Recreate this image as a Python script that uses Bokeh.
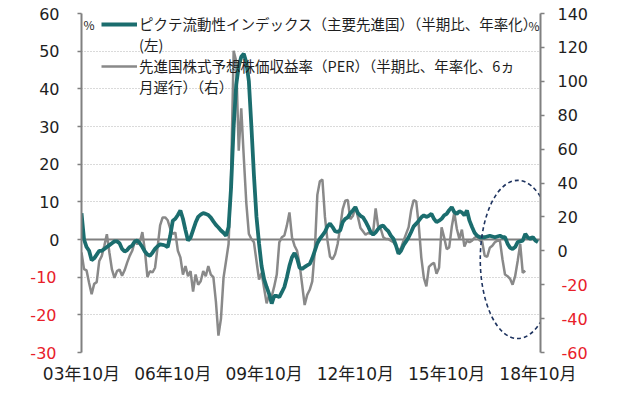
from bokeh.plotting import figure
from bokeh.models import Range1d, LinearAxis, FixedTicker, Label, Legend, LegendItem
from bokeh.embed import file_html
from bokeh.resources import INLINE

# ---- data (monthly, starting Oct 2003) ----
liquidity = [7, 0, -2, -3, -5.5, -5, -4, -3, -3, -2.5, -2, -1.5, -1, -0.5, -0.5, -1, -2.5, -3.2, -2.8, -2,
             -1.6, -0.5, -0.3, -1, -2, -3.2, -4, -4.3, -3.5, -2.5, -1.8, -1.3, -1.4, -1.6, -2, 1, 5, 5.5, 6.5, 7.7,
             5.5, 2.5, -0.3, 0.5, 2.5, 4.5, 6, 6.6, 7, 6.8, 6.5, 5.8, 4.8, 3.9, 3.2, 2.4, 1.8, 1, 3.3, 14,
             30, 41, 46, 48.5, 49.3, 47, 42, 30, 17, 6, -1, -7, -10.5, -12.6, -14.5, -17, -15, -15, -15.3, -14,
             -12.6, -10, -7, -4.7, -3.6, -5, -7.5, -7.8, -7.3, -6.9, -6.5, -5, -3, -1, 0.2, 1.1, 2, 3.5, 4.2, 3.3,
             2.2, 2, 2.4, 4.6, 5.5, 5.9, 7, 7.7, 8.6, 7, 6.3, 5.9, 4.8, 3.5, 2, 1.3, 1.9, 2.8, 3.5, 3.7,
             2.8, 2.2, 1, 0.2, -1.6, -3.8, -3, -1.5, -0.5, 0.6, 2, 3.5, 4.2, 5, 5.9, 6.4, 6, 6.3, 6.8, 5.5,
             4.6, 5, 5.5, 6.4, 6.8, 7.8, 8.6, 7.3, 6.8, 7.5, 7.2, 6.4, 7.7, 5, 3.3, 1.8, 1, 0.6, 0.6, 0.6,
             0.8, 1, 0.8, 0.6, 0.8, 1, 0.6, 0.6, -1.1, -2.2, -2.5, -2, -0.7, -0.5, -0.3, 1.5, 0.5, 0.2, 0.6, -0.3,
             -0.7]
per = [-1, -10.8, -11.6, -19, -25.6, -19.5, -18.5, -6, -3, 3, 9.8, -1, -11, -16, -12, -11, -14.7, -11.5, -7, -3,
       0, 5.5, 4, 5, 11, 0, -15.5, -12, -12.8, -10, 2, 15, 19.7, 19.7, 18, 13, 10, 10.8, 0, -3.9,
       -14, -9, -15, -12, -24, -14, -20, -18, -12, -15, -9, -14, -15.5, -30, -50, -40, -16, -6, 4, 45,
       118, 112, 59, 84, 55, 28, 10, 7, 5, -6, -17, -13, -22, -31, -26, -27, -21, -14, 5, 8,
       9, 15, 22.6, 8, 3, 0, -8, -20, -32, -26, -23, -18, 0, 33, 41, 42, 20, 6, -3.5, -5,
       -2, 4, 13.8, 24.6, 29.5, 30, 18.7, 20.5, 25.9, 20, 13.5, 11.5, 9.5, 10.5, 10, 11, 25, 14, 13, 8,
       6.9, 6.9, 6, 5, 3, 0, 1.5, 6, 10, 14, 24, 30, 29, 15, -4, -16, -21, -9.5, -8, -7,
       -13.5, -10, 13.8, 8, 1, 2, 14, 22.6, 13, 7, 12.5, 2.5, 6, 5, 6, 7.7, 8.5, 6.2, 5.5, -3,
       -3.5, 1.8, 3, 5, 6, 6, -5, -14, -15, -16.5, -20, -15, -6, 4, -13, -11.8]
months_liq = list(range(len(liquidity)))
months_per = list(range(len(per)))

x_tick_pos = [0, 36, 72, 108, 144, 180]
x_tick_labels = ["03年10月", "06年10月", "09年10月", "12年10月", "15年10月", "18年10月"]
left_ticks = [-30, -20, -10, 0, 10, 20, 30, 40, 50, 60]
right_ticks = [-60, -40, -20, 0, 20, 40, 60, 80, 100, 120, 140]
legend_lines = [
    "ピクテ流動性インデックス（主要先進国）（半期比、年率化）",
    "(左)",
    "先進国株式予想株価収益率（PER）（半期比、年率化、6ヵ",
    "月遅行）（右）",
]
# highlighted region (dashed ellipse): centre month, centre value (left axis), width in months, height
hl_x, hl_y, hl_w, hl_h = 172, -5.3, 29.5, 42

TEAL = "#1b6d6e"
GRAY = "#898989"
AXIS = "#808080"
RED = "#e8202a"
TXT = "#1e1e1e"
NUM_FONT = "DejaVu Sans"
JP_FONT = "Noto Sans CJK JP"

FW, FH = 459, 339

p = figure(frame_width=FW, frame_height=FH,
           x_range=Range1d(0, 181), y_range=Range1d(-30, 60),
           output_backend="svg", toolbar_location=None,
           min_border_left=81, min_border_right=86, min_border_top=13, min_border_bottom=42)
p.extra_y_ranges = {"right": Range1d(-60, 140)}
p.outline_line_color = None
p.background_fill_color = "white"
p.border_fill_color = "white"

# grid
p.xgrid.visible = False
p.ygrid.ticker = FixedTicker(ticks=[t for t in left_ticks if t != 0])
p.ygrid.grid_line_color = "#b4b4b4"
p.ygrid.grid_line_dash = "1 2"
p.ygrid.grid_line_width = 1

# x axis
xa = p.xaxis[0]
xa.ticker = FixedTicker(ticks=x_tick_pos)
xa.major_label_overrides = {t: l for t, l in zip(x_tick_pos, x_tick_labels)}
xa.axis_line_color = None
xa.major_tick_line_color = None
xa.minor_tick_line_color = None
xa.major_label_standoff = 5
xa.major_label_text_font = NUM_FONT + ", " + JP_FONT
xa.major_label_text_font_size = "17px"
xa.major_label_text_color = TXT


def style_axis(ax, standoff, color, visible_line):
    ax.axis_line_color = AXIS if visible_line else None
    ax.axis_line_width = 2
    ax.major_tick_line_color = AXIS if visible_line else None
    ax.major_tick_line_width = 1.5
    ax.major_tick_out = 4 if visible_line else 0
    ax.major_tick_in = 0
    ax.minor_tick_line_color = None
    ax.major_label_standoff = standoff
    ax.major_label_text_font = NUM_FONT
    ax.major_label_text_font_size = "16px"
    ax.major_label_text_color = color


# left axis: black (non-negative) labels, next to the frame
ya = p.yaxis[0]
ya.ticker = FixedTicker(ticks=left_ticks)
ya.major_label_overrides = {t: "" for t in left_ticks if t < 0}
style_axis(ya, 18, TXT, True)
# outer left axis: red negative labels, pulled back over the inner axis
ya_neg = LinearAxis(ticker=FixedTicker(ticks=left_ticks))
ya_neg.major_label_overrides = {t: ("" if t >= 0 else str(t)) for t in left_ticks}
style_axis(ya_neg, -20, RED, False)
p.add_layout(ya_neg, "left")

# right axis
ra = LinearAxis(y_range_name="right", ticker=FixedTicker(ticks=right_ticks))
ra.major_label_overrides = {t: "" for t in right_ticks if t < 0}
style_axis(ra, 13, TXT, True)
p.add_layout(ra, "right")
ra_neg = LinearAxis(y_range_name="right", ticker=FixedTicker(ticks=right_ticks))
ra_neg.major_label_overrides = {t: ("" if t >= 0 else str(t)) for t in right_ticks}
style_axis(ra_neg, -30, RED, False)
p.add_layout(ra_neg, "right")

# % unit labels
p.add_layout(Label(x=2, y=FH - 11, x_units="screen", y_units="screen", text="%", text_align="left",
                   text_baseline="middle", text_font=JP_FONT, text_font_size="12px", text_color=TXT))
p.add_layout(Label(x=FW - 1, y=FH - 12, x_units="screen", y_units="screen", text="%", text_align="right",
                   text_baseline="middle", text_font=JP_FONT, text_font_size="12px", text_color=TXT))

# zero line
p.hspan(y=[0], line_color=AXIS, line_width=2)

# series
r_per = p.line(months_per, per, y_range_name="right", line_color=GRAY, line_width=2.5)
r_liq = p.line(months_liq, liquidity, line_color=TEAL, line_width=3.8)

# dashed ellipse highlight
p.ellipse(x=[hl_x], y=[hl_y], width=[hl_w], height=[hl_h], fill_color=None,
          line_color="#1f3460", line_dash="4 3", line_width=1.6)

# invisible renderer for legend continuation lines
r_blank = p.line([], [], line_alpha=0)

legend = Legend(items=[
    LegendItem(label=legend_lines[0], renderers=[r_liq]),
    LegendItem(label=legend_lines[1], renderers=[r_blank]),
    LegendItem(label=legend_lines[2], renderers=[r_per]),
    LegendItem(label=legend_lines[3], renderers=[r_blank]),
], location=(20, FH - 4 - 80), padding=0, margin=0, spacing=0,
    border_line_color=None, background_fill_alpha=0,
    glyph_width=36, glyph_height=20, label_height=20, label_standoff=2,
    label_text_font=JP_FONT, label_text_font_size="14.5px", label_text_color=TXT)
p.add_layout(legend)

open("out.html", "w").write(file_html(p, INLINE))
